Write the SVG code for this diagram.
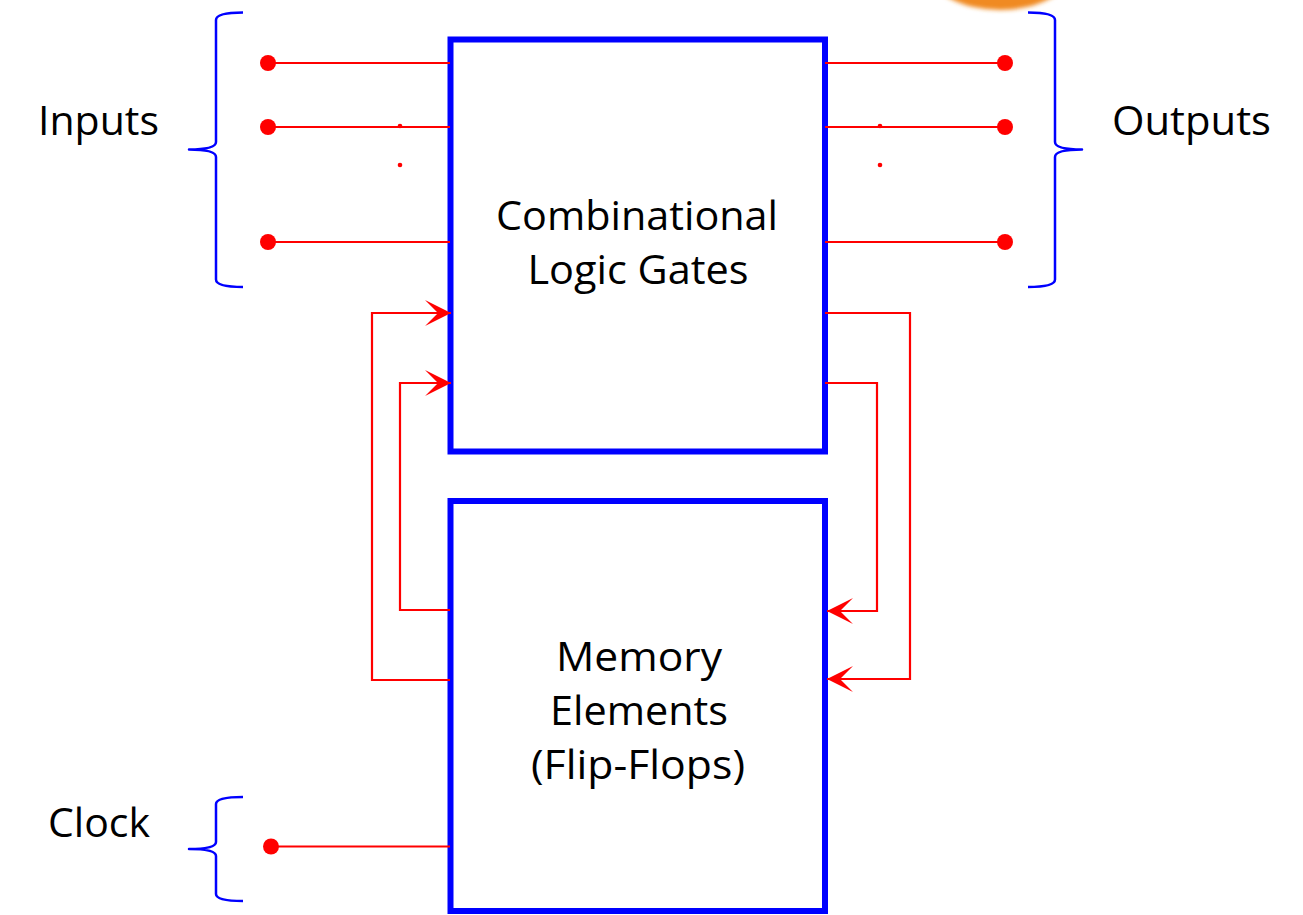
<svg xmlns="http://www.w3.org/2000/svg" width="1303" height="915" viewBox="0 0 1303 915">
  <style>
    .box { fill: none; stroke: #0000ff; stroke-width: 6; }
    .wire { fill: none; stroke: #ff0000; stroke-width: 2.2; }
    .term { fill: #ff0000; }
    .brace { fill: none; stroke: #0000ff; stroke-width: 2.5; stroke-linejoin: round; }
    .lbl { font-family: "Open Sans", "Noto Sans", "Liberation Sans", sans-serif; font-size: 41px; fill: #000000; }
    .mid { text-anchor: middle; }
  </style>
  <defs>
    <marker id="arrow" viewBox="-27 -14 28 28" markerWidth="28" markerHeight="28" refX="0" refY="0" orient="auto" markerUnits="userSpaceOnUse">
      <path d="M0,0 L-26,-13 L-13,0 L-26,13 Z" fill="#ff0000"/>
    </marker>
    <filter id="soft" x="-20%" y="-20%" width="140%" height="140%">
      <feGaussianBlur stdDeviation="2"/>
    </filter>
  </defs>

  <rect width="1303" height="915" fill="#ffffff"/>

  <!-- orange highlight partially visible at top -->
  <ellipse cx="1000" cy="-28" rx="70" ry="38" fill="#f08a24" filter="url(#soft)"/>

  <!-- braces -->
  <g id="inputs-brace">
    <path class="brace" d="M243,12.5 Q216,12.5 216,20 V142 Q216,149.5 189,149.5 Q216,149.5 216,157 V279.5 Q216,287 243,287"/>
  </g>
  <g id="outputs-brace">
    <path class="brace" d="M1028,12.5 Q1055,12.5 1055,20 V142 Q1055,149.5 1082,149.5 Q1055,149.5 1055,157 V279.5 Q1055,287 1028,287"/>
  </g>
  <g id="clock-brace">
    <path class="brace" d="M243,797 Q216,797 216,804 V842 Q216,849 189,849 Q216,849 216,856 V894 Q216,901 243,901"/>
  </g>

  <!-- nodes -->
  <g id="combinational">
    <rect class="box" x="450.5" y="39.5" width="374.5" height="412"/>
    <text class="lbl mid" x="637" y="230" textLength="282" lengthAdjust="spacingAndGlyphs">Combinational</text>
    <text class="lbl mid" x="638" y="284" textLength="221" lengthAdjust="spacingAndGlyphs">Logic Gates</text>
  </g>
  <g id="memory">
    <rect class="box" x="450.5" y="501" width="374.5" height="410"/>
    <text class="lbl mid" x="639" y="671" textLength="166" lengthAdjust="spacingAndGlyphs">Memory</text>
    <text class="lbl mid" x="639" y="725" textLength="178" lengthAdjust="spacingAndGlyphs">Elements</text>
    <text class="lbl mid" x="638" y="779" textLength="214" lengthAdjust="spacingAndGlyphs">(Flip-Flops)</text>
  </g>

  <g id="labels">
    <text class="lbl" x="38" y="135" textLength="121" lengthAdjust="spacingAndGlyphs">Inputs</text>
    <text class="lbl" x="1112" y="135" textLength="159" lengthAdjust="spacingAndGlyphs">Outputs</text>
    <text class="lbl" x="48" y="837" textLength="102" lengthAdjust="spacingAndGlyphs">Clock</text>
  </g>

  <!-- connectors -->
  <g id="connectors">
    <!-- inputs -->
    <path class="wire" d="M268,63 H450"/>
    <path class="wire" d="M268,127 H450"/>
    <path class="wire" d="M268,242 H450"/>
    <circle class="term" cx="268" cy="63" r="8"/>
    <circle class="term" cx="268" cy="127" r="8"/>
    <circle class="term" cx="268" cy="242" r="8"/>
    <circle class="term" cx="400" cy="126" r="2.3"/>
    <circle class="term" cx="400" cy="165" r="2.3"/>
    <!-- outputs -->
    <path class="wire" d="M825,63 H1005"/>
    <path class="wire" d="M825,127 H1005"/>
    <path class="wire" d="M825,242 H1005"/>
    <circle class="term" cx="1005" cy="63" r="8"/>
    <circle class="term" cx="1005" cy="127" r="8"/>
    <circle class="term" cx="1005" cy="242" r="8"/>
    <circle class="term" cx="880" cy="126" r="2.3"/>
    <circle class="term" cx="880" cy="165" r="2.3"/>
    <!-- clock -->
    <path class="wire" d="M271,846.5 H450"/>
    <circle class="term" cx="271" cy="846.5" r="8"/>
    <!-- feedback: memory -> combinational -->
    <path class="wire" d="M450,680 H372 V313 H451" marker-end="url(#arrow)"/>
    <path class="wire" d="M450,610 H400 V383 H451" marker-end="url(#arrow)"/>
    <!-- combinational -> memory -->
    <path class="wire" d="M825,383 H877 V611 H827" marker-end="url(#arrow)"/>
    <path class="wire" d="M825,313 H910 V679 H827" marker-end="url(#arrow)"/>
  </g>
</svg>
